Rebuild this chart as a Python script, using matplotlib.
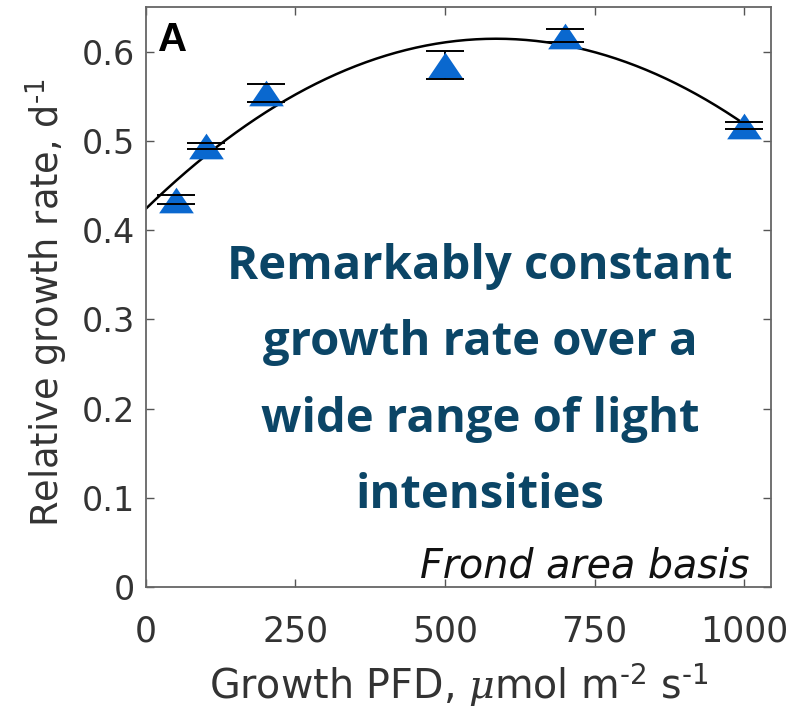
import numpy as np
import matplotlib
matplotlib.use("Agg")
import matplotlib.pyplot as plt
from matplotlib.path import Path

# Data
pfd = [50, 100, 200, 500, 700, 1000]
rgr = [0.434, 0.494, 0.554, 0.585, 0.618, 0.517]
rgr_err = [0.005, 0.003, 0.010, 0.016, 0.007, 0.004]
# Quadratic fit coefficients: y = c0 + c1*x + c2*x^2
fit_coeffs = [0.424, 6.504e-4, -5.554e-7]
x_ticks = [0, 250, 500, 750, 1000]
y_ticks = [0, 0.1, 0.2, 0.3, 0.4, 0.5, 0.6]
y_tick_labels = ['0', '0.1', '0.2', '0.3', '0.4', '0.5', '0.6']

plt.rcParams['font.family'] = ['DejaVu Sans']
plt.rcParams['mathtext.fontset'] = 'custom'
plt.rcParams['mathtext.it'] = 'DejaVu Serif:italic'
plt.rcParams['mathtext.rm'] = 'DejaVu Sans'

fig = plt.figure(figsize=(7.92, 7.12), dpi=100)
ax = fig.add_axes([0.1843, 0.1756, 0.9735 - 0.1843, 0.9902 - 0.1756])

xf = np.linspace(0, 1000, 300)
yf = fit_coeffs[0] + fit_coeffs[1] * xf + fit_coeffs[2] * xf ** 2
ax.plot(xf, yf, color='black', lw=1.8, zorder=2)

tri = Path([(-1, -0.74), (1, -0.74), (0, 0.74), (-1, -0.74)],
           [Path.MOVETO, Path.LINETO, Path.LINETO, Path.CLOSEPOLY])
eb = ax.errorbar(pfd, rgr, yerr=rgr_err, fmt='none', ecolor='black',
                 elinewidth=1.4, capsize=14, capthick=1.4)
for c in eb[1]:
    c.set_zorder(4)
for b in eb[2]:
    b.set_zorder(1.5)
ax.plot(pfd, rgr, linestyle='none', marker=tri, markersize=25,
        color='#0a68cf', markeredgewidth=0, zorder=3)

ax.set_xlim(0, 1045)
ax.set_ylim(0, 0.65)
ax.set_xticks(x_ticks)
ax.set_yticks(y_ticks)
ax.set_xticklabels([str(v) for v in x_ticks])
ax.set_yticklabels(y_tick_labels)
ax.tick_params(axis='both', direction='in', length=6, width=1.0,
               color='#555555', top=True, right=True, labelcolor='#333333',
               labelsize=24)
ax.tick_params(axis='x', labelsize=25, pad=20)
ax.tick_params(axis='y', pad=8)
for s in ax.spines.values():
    s.set_color('#666666')
    s.set_linewidth(1.3)

ax.set_xlabel(r'Growth PFD, $\mathit{\mu}$mol m$^{\text{-2}}$ s$^{\text{-1}}$',
              fontsize=28.5, color='#333333', labelpad=9)
ax.set_ylabel(r'Relative growth rate, d$^{\text{-1}}$', fontsize=26.5,
              color='#333333', labelpad=10)
ax.yaxis.set_label_coords(-0.122, 0.49)

ax.text(0.02, 0.975, 'A', transform=ax.transAxes, fontsize=29,
        fontweight='bold', va='top', ha='left', color='black',
        family='Liberation Sans')
ax.text(0.966, 0.0155, 'Frond area basis', transform=ax.transAxes,
        fontsize=28.5, fontstyle='italic', ha='right', va='baseline',
        color='#111111')

fig.text(480 / 792, 1 - 381 / 712,
         'Remarkably constant\ngrowth rate over a\nwide range of light\nintensities',
         fontsize=34, fontweight='bold', family=['Open Sans', 'DejaVu Sans'],
         color='#0b4566', ha='center', va='center', linespacing=1.81)

fig.savefig('out.png', dpi=100)
